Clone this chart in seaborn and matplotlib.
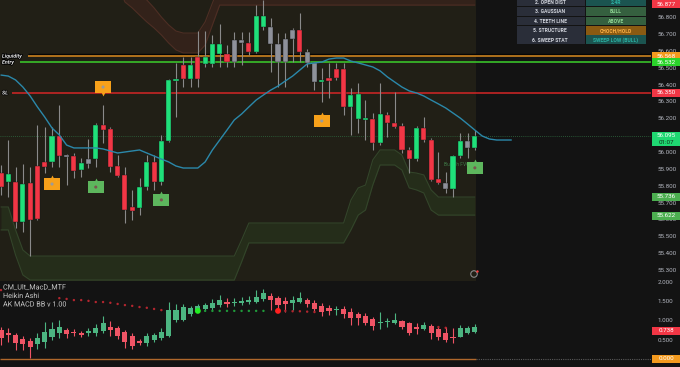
import matplotlib
matplotlib.use("Agg")
import matplotlib.pyplot as plt
import seaborn as sns
import numpy as np
import pandas as pd
from matplotlib.patches import Rectangle
from matplotlib.transforms import blended_transform_factory
import matplotlib.patheffects as pe

# ------------------------------------------------------------------ data
opens = [55.875, 55.822, 55.822, 55.585, 55.816, 55.917, 55.941, 55.941, 56.095, 55.982,
         55.976, 55.893, 55.958, 55.958, 56.160, 56.136, 55.917, 55.864, 55.674, 55.668,
         55.792, 55.941, 55.822, 56.065, 56.421, 56.433, 56.516, 56.433, 56.563, 56.522,
         56.581, 56.581, 56.533, 56.646, 56.646, 56.593, 56.741, 56.741, 56.640, 56.533,
         56.670, 56.723, 56.593, 56.528, 56.415, 56.439, 56.492, 56.492, 56.267, 56.196,
         56.190, 56.196, 56.053, 56.219, 56.172, 56.154, 56.012, 55.958, 56.142, 56.071,
         55.840, 55.816, 55.781, 55.976, 56.065, 56.024]
highs = [55.923, 56.071, 55.911, 55.929, 55.911, 56.160, 56.148, 56.148, 56.279, 55.988,
         55.994, 55.964, 56.077, 56.172, 56.279, 56.148, 55.982, 55.911, 55.775, 55.845,
         55.982, 55.982, 56.101, 56.433, 56.528, 56.563, 56.563, 56.715, 56.715, 56.694,
         56.758, 56.634, 56.711, 56.711, 56.711, 56.871, 56.901, 56.794, 56.705, 56.705,
         56.735, 56.824, 56.611, 56.533, 56.498, 56.528, 56.528, 56.528, 56.379, 56.409,
         56.308, 56.231, 56.409, 56.237, 56.357, 56.172, 56.030, 56.154, 56.207, 56.083,
         56.000, 55.881, 55.982, 56.113, 56.113, 56.130]
lows = [55.745, 55.733, 55.549, 55.526, 55.383, 55.597, 55.875, 55.911, 55.911, 55.804,
        55.845, 55.853, 55.905, 55.911, 56.053, 55.881, 55.852, 55.579, 55.597, 55.627,
        55.775, 55.775, 55.805, 56.059, 56.207, 56.385, 56.385, 56.385, 56.504, 56.504,
        56.504, 56.504, 56.504, 56.516, 56.575, 56.587, 56.723, 56.474, 56.385, 56.385,
        56.533, 56.533, 56.504, 56.367, 56.296, 56.320, 56.427, 56.219, 56.101, 56.113,
        56.071, 56.012, 56.041, 56.089, 56.140, 55.994, 55.875, 55.946, 56.059, 55.828,
        55.810, 55.757, 55.733, 55.964, 55.964, 56.012]
closes = [55.792, 55.869, 55.585, 55.810, 55.597, 55.603, 55.911, 56.095, 55.976, 55.970,
          55.887, 55.935, 55.929, 56.160, 56.130, 55.911, 55.858, 55.656, 55.650, 55.792,
          55.941, 55.822, 56.065, 56.427, 56.433, 56.516, 56.433, 56.563, 56.522, 56.640,
          56.640, 56.533, 56.664, 56.664, 56.593, 56.806, 56.806, 56.640, 56.533, 56.670,
          56.723, 56.593, 56.528, 56.415, 56.427, 56.421, 56.439, 56.267, 56.338, 56.344,
          56.201, 56.053, 56.225, 56.172, 56.148, 56.012, 55.958, 56.142, 56.071, 55.834,
          55.816, 55.781, 55.976, 56.065, 56.024, 56.095]
# candle colouring state: g = bull, r = bear, n = neutral (grey)
tone = list("rgrgrrrgrn" "rgngrrrrrg" "grgggrgrgg" "grnnrggnnn"
            "nrnngrrrgg" "grgrrrrgrr" "rnggng")

# moving-average line (extends a few bars to the right)
ma = [56.456, 56.450, 56.427, 56.385, 56.332, 56.267, 56.207, 56.142, 56.101, 56.041,
      56.024, 56.024, 56.024, 56.024, 56.018, 56.006, 55.994, 56.000, 56.006, 56.012,
      55.994, 55.976, 55.958, 55.941, 55.917, 55.905, 55.905, 55.905, 55.941, 56.012,
      56.071, 56.130, 56.190, 56.225, 56.267, 56.308, 56.338, 56.367, 56.391, 56.421,
      56.450, 56.486, 56.522, 56.528, 56.533, 56.551, 56.557, 56.557, 56.539, 56.528,
      56.516, 56.504, 56.481, 56.445, 56.415, 56.385, 56.362, 56.350, 56.332, 56.308,
      56.285, 56.261, 56.231, 56.201, 56.166, 56.130, 56.095, 56.077, 56.071, 56.071,
      56.071]

# upper (premium) zone
up_lo = [57.000, 57.000, 57.000, 57.000, 57.000, 57.000, 57.000, 57.000, 57.000, 57.000,
         57.000, 57.000, 57.000, 57.000, 57.000, 57.000, 57.000, 56.889, 56.854, 56.812,
         56.771, 56.735, 56.694, 56.646, 56.605, 56.587, 56.587, 56.587, 56.634, 56.753,
         56.871, 56.871, 56.871, 56.871, 56.871, 56.871, 56.871, 56.871, 56.871, 56.871,
         56.871, 56.871, 56.871, 56.871, 56.871, 56.871, 56.871, 56.871, 56.871, 56.871,
         56.871, 56.871, 56.871, 56.871, 56.871, 56.871, 56.871, 56.871, 56.871, 56.871,
         56.871, 56.871, 56.871, 56.871, 56.871, 56.871]
up_hi = [57.100, 57.100, 57.100, 57.100, 57.100, 57.100, 57.100, 57.100, 57.100, 57.100,
         57.100, 57.100, 57.100, 57.100, 57.100, 57.100, 57.100, 57.020, 56.984, 56.937,
         56.901, 56.854, 56.800, 56.753, 56.717, 56.705, 56.705, 56.705, 56.771, 56.883,
         56.990, 57.020, 57.020, 57.020, 57.020, 57.020, 57.020, 57.020, 57.020, 57.020,
         57.020, 57.020, 57.020, 57.020, 57.020, 57.020, 57.020, 57.020, 57.020, 57.020,
         57.020, 57.020, 57.020, 57.020, 57.020, 57.020, 57.020, 57.020, 57.020, 57.020,
         57.020, 57.020, 57.020, 57.020, 57.020, 57.020]
# lower (discount) zone
dn_hi = [55.674, 55.674, 55.538, 55.419, 55.383, 55.383, 55.383, 55.383, 55.383, 55.383,
         55.383, 55.383, 55.383, 55.383, 55.383, 55.383, 55.383, 55.383, 55.383, 55.383,
         55.383, 55.383, 55.383, 55.383, 55.383, 55.383, 55.383, 55.383, 55.383, 55.383,
         55.383, 55.383, 55.383, 55.478, 55.579, 55.579, 55.579, 55.579, 55.579, 55.579,
         55.579, 55.579, 55.579, 55.579, 55.579, 55.579, 55.579, 55.579, 55.715, 55.787,
         55.804, 55.953, 56.012, 56.012, 56.012, 55.982, 55.881, 55.875, 55.864, 55.775,
         55.733, 55.733, 55.733, 55.733, 55.733, 55.733]
dn_lo = [55.538, 55.538, 55.389, 55.271, 55.241, 55.241, 55.241, 55.241, 55.241, 55.241,
         55.241, 55.241, 55.241, 55.241, 55.241, 55.241, 55.241, 55.241, 55.241, 55.241,
         55.241, 55.241, 55.241, 55.241, 55.241, 55.241, 55.241, 55.241, 55.241, 55.241,
         55.241, 55.241, 55.241, 55.348, 55.461, 55.461, 55.461, 55.461, 55.461, 55.461,
         55.461, 55.461, 55.461, 55.461, 55.461, 55.461, 55.461, 55.461, 55.538, 55.626,
         55.656, 55.804, 55.923, 55.923, 55.923, 55.893, 55.787, 55.775, 55.757, 55.656,
         55.626, 55.626, 55.626, 55.626, 55.626, 55.626]

level_names = ["Liquidity", "Entry", "SL"]
level_vals = [56.568, 56.532, 56.350]

sig_idx = [14, 7, 44, 13, 22, 65]
sig_price = [56.385, 55.810, 56.184, 55.792, 55.716, 55.906]
sig_kind = ["warn", "warn", "warn", "bull", "bull", "bull"]
sig_tip = ["down", "up", "up", "up", "up", "up"]

tag_vals = [56.877, 56.568, 56.532, 56.350, 56.095, 55.736, 55.622]
tag_kind = ["red", "orange", "lime", "red", "green", "mgreen", "mgreen"]
countdown = "01:07"

price_ticks = [55.3, 55.4, 55.5, 55.6, 55.7, 55.8, 55.9, 56.0, 56.1, 56.2,
               56.3, 56.4, 56.5, 56.6, 56.7, 56.8]

# lower pane: Heikin-Ashi MACD candles
ha_open = [0.753, 0.675, 0.623, 0.519, 0.468, 0.390, 0.442, 0.571, 0.675, 0.753,
           0.701, 0.675, 0.675, 0.675, 0.727, 0.831, 0.805, 0.701, 0.597, 0.468,
           0.416, 0.494, 0.545, 0.597, 1.013, 1.013, 1.169, 1.247, 1.299, 1.325,
           1.403, 1.481, 1.455, 1.455, 1.481, 1.481, 1.558, 1.636, 1.584, 1.506,
           1.455, 1.481, 1.532, 1.455, 1.377, 1.325, 1.273, 1.299, 1.221, 1.169,
           1.117, 1.039, 0.935, 0.961, 0.935, 0.987, 0.935, 0.831, 0.779, 0.857,
           0.779, 0.675, 0.571, 0.571, 0.675, 0.701]
ha_high = [0.831, 0.805, 0.675, 0.597, 0.545, 0.675, 0.961, 0.961, 1.013, 0.805,
           0.779, 0.727, 0.805, 0.909, 1.117, 0.987, 0.857, 0.753, 0.675, 0.519,
           0.675, 0.675, 0.805, 1.481, 1.429, 1.429, 1.377, 1.429, 1.455, 1.558,
           1.662, 1.584, 1.584, 1.610, 1.636, 1.792, 1.818, 1.714, 1.636, 1.610,
           1.636, 1.740, 1.584, 1.532, 1.455, 1.403, 1.377, 1.377, 1.325, 1.221,
           1.195, 1.091, 1.221, 1.065, 1.195, 1.013, 0.961, 0.935, 0.961, 0.909,
           0.831, 0.831, 0.805, 0.883, 0.857, 0.909]
ha_low = [0.364, 0.442, 0.234, 0.234, 0.026, 0.260, 0.286, 0.494, 0.545, 0.545,
          0.597, 0.571, 0.597, 0.597, 0.675, 0.597, 0.519, 0.286, 0.260, 0.364,
          0.338, 0.442, 0.494, 0.571, 0.961, 0.987, 1.117, 1.221, 1.247, 1.273,
          1.351, 1.351, 1.377, 1.403, 1.429, 1.455, 1.506, 1.273, 1.221, 1.221,
          1.273, 1.455, 1.351, 1.221, 1.117, 1.143, 1.143, 1.065, 0.883, 0.883,
          0.883, 0.753, 0.779, 0.831, 0.909, 0.779, 0.623, 0.649, 0.753, 0.519,
          0.494, 0.442, 0.416, 0.571, 0.649, 0.675]
ha_close = [0.545, 0.623, 0.416, 0.390, 0.312, 0.545, 0.701, 0.779, 0.831, 0.649,
            0.675, 0.623, 0.727, 0.805, 0.935, 0.753, 0.597, 0.442, 0.338, 0.416,
            0.597, 0.623, 0.701, 1.273, 1.273, 1.351, 1.325, 1.377, 1.403, 1.455,
            1.532, 1.429, 1.481, 1.506, 1.532, 1.610, 1.714, 1.532, 1.403, 1.429,
            1.532, 1.584, 1.429, 1.299, 1.221, 1.247, 1.299, 1.169, 1.065, 1.065,
            0.935, 0.857, 0.961, 0.987, 1.013, 0.831, 0.675, 0.779, 0.883, 0.675,
            0.571, 0.494, 0.545, 0.805, 0.805, 0.831]

dot_idx = [0, 8, 9, 10, 11, 12, 13, 14, 15, 16, 17, 18, 19, 20, 21, 22,
           27, 28, 29, 30, 31, 32, 33, 34, 35, 36, 38, 39, 40, 41, 42, 43, 60, 61]
dot_val = [1.79, 1.58, 1.56, 1.53, 1.53, 1.51, 1.48, 1.48, 1.46, 1.43, 1.40, 1.38, 1.35,
           1.33, 1.30, 1.27, 1.25, 1.25, 1.25, 1.25, 1.25, 1.25, 1.25, 1.25, 1.25, 1.25,
           1.25, 1.25, 1.24, 1.24, 1.23, 1.22, 0.83, 0.81]
dot_kind = ["bear"] * 16 + ["bull_x"] + ["bull"] * 9 + ["bear_x"] + ["bear"] * 7

lower_ticks = [0.5, 1.0, 1.5, 2.0]
lower_tags = [0.738, 0.000]
lower_titles = ["CM_Ult_MacD_MTF", "Heikin Ashi", "AK MACD BB v 1.00"]

table_left = ["2. OPEN DIST", "3. GAUSSIAN", "4. TEETH LINE", "5. STRUCTURE", "6. SWEEP STAT"]
table_right = ["2.4R", "BULL", "ABOVE", "CHOCH/HOLD", "SWEEP LOW (BULL)"]

# ------------------------------------------------------------------ layout
sns.set_theme(style="dark")
plt.rcParams["font.family"] = ["Roboto", "DejaVu Sans"]
plt.rcParams["axes.grid"] = False

W, H = 680, 367
AXW = 651          # plot area width in px
SP = 7.29          # px per bar
X_LO = -0.137
X_HI = X_LO + AXW / SP
P_TOP = 56.901
PPX = 0.005928     # price per px
MAIN_H = 281
LOW_TOP = 282
V_TOP = 2.0
VPX = 1 / 38.5
BG = "#131313"
OLIVE = "#211f16"

def px2x(px):
    return X_LO + px / SP

def py2p(py):
    return P_TOP - py * PPX

fig = plt.figure(figsize=(W / 100, H / 100), dpi=100, facecolor=BG)
ax = fig.add_axes([0, (H - MAIN_H) / H, AXW / W, MAIN_H / H])
axl = fig.add_axes([0, 0, AXW / W, (H - LOW_TOP) / H])
for a in (ax, axl):
    a.set_facecolor(BG)
    for s in a.spines.values():
        s.set_visible(False)
    a.set_xlim(X_LO, X_HI)
    a.set_xticks([])
    a.grid(False)
    a.set_xlabel("")
    a.set_ylabel("")
ax.set_ylim(P_TOP - MAIN_H * PPX, P_TOP)
axl.set_ylim(V_TOP - (H - LOW_TOP) * VPX, V_TOP)

olive_right = px2x(476)
ax.axvspan(X_LO, olive_right, color=OLIVE, zorder=0, lw=0)

# zones
bi = np.arange(len(up_lo))
ax.fill_between(bi, up_lo, up_hi, color="#33221a", lw=0, zorder=1)
ax.plot(bi, up_lo, color="#4d2e24", lw=0.8, zorder=1)
ax.plot(bi, up_hi, color="#4d2e24", lw=0.8, zorder=1)
ax.fill_between(bi, dn_lo, dn_hi, color="#252d1a", lw=0, zorder=1)
ax.plot(bi, dn_lo, color="#33452a", lw=0.8, zorder=1)
ax.plot(bi, dn_hi, color="#33452a", lw=0.8, zorder=1)

# current price dotted line
ax.axhline(closes[-1], color="#2f6b40", lw=0.6, ls=(0, (1, 1.5)), zorder=2)

# levels
lvl_colors = ["#d98a1f", "#3ccf2b", "#d42626"]
lvl_start = [28, 20, 12]
ax.hlines(level_vals[0] + 2 * PPX, px2x(lvl_start[0]), X_HI, color="#050505", lw=1.0, zorder=2)
for name, v, c, st in zip(level_names, level_vals, lvl_colors, lvl_start):
    ax.hlines(v, px2x(st), X_HI, color=c, lw=1.1, zorder=2)
    ax.text(px2x(2), v, name, fontsize=3.8, color="#e6e6e6", fontweight="bold",
            style="italic", va="center", ha="left", zorder=6,
            path_effects=[pe.withStroke(linewidth=1.2, foreground="#000000")])

# candles
idx = np.arange(len(opens))
cmap = {"g": "#1fe07a", "r": "#f23645", "n": "#8e919a"}
ccol = [cmap[t] for t in tone]
o = np.array(opens); c = np.array(closes)
bottoms = np.minimum(o, c)
heights = np.maximum(np.abs(c - o), 0.012)
ax.vlines(idx, lows, highs, color="#8a8a8a", lw=0.8, zorder=3)
ax.bar(idx, heights, bottom=bottoms, width=0.7, color=ccol,
       edgecolor="#161616", linewidth=0.3, zorder=4)

# moving average
sns.lineplot(x=np.arange(len(ma)), y=ma, ax=ax, color="#2b88aa", lw=1.0,
             zorder=5, legend=False)
ax.set_xlabel(""); ax.set_ylabel("")

# faint FVG text
ax.text(px2x(444), py2p(164), "Bullish FVG", fontsize=3.6, color="#3f7a47",
        va="center", ha="left", zorder=2)

# signal labels
sig = pd.DataFrame({"i": sig_idx, "p": sig_price, "k": sig_kind, "t": sig_tip})
box = [(-1.25, -1), (1.25, -1), (1.25, 1), (-1.25, 1), (-1.25, -1)]
for kind, fc, ic in [("warn", "#f7a11a", "#9a9a9a"), ("bull", "#5db65d", "#7a5550")]:
    d = sig[sig.k == kind]
    sns.scatterplot(data=d, x="i", y="p", ax=ax, marker=box, s=130, color=fc,
                    edgecolor="none", zorder=7, legend=False)
    sns.scatterplot(data=d, x="i", y="p", ax=ax, marker="o", s=5, color=ic,
                    edgecolor="none", zorder=8, legend=False)
    for _, r in d.iterrows():
        if r.t == "down":
            ax.scatter(r.i, r.p - 7 * PPX, marker="v", s=8, color=fc, lw=0, zorder=7)
        else:
            ax.scatter(r.i, r.p + 7 * PPX, marker="^", s=8, color=fc, lw=0, zorder=7)
ax.set_xlabel(""); ax.set_ylabel("")

# replay icon
ax.scatter([474 / AXW], [7 / MAIN_H], transform=ax.transAxes, s=22, facecolor="none",
           edgecolor="#8a8a8a", lw=0.8, zorder=9, clip_on=False)
ax.scatter([477 / AXW], [10 / MAIN_H], transform=ax.transAxes, s=3, color="#ff3b3b",
           lw=0, zorder=10, clip_on=False)

# price axis
ax.yaxis.tick_right()
ax.set_yticks(price_ticks)
ax.set_yticklabels([f"{v:.3f}" for v in price_ticks])
ax.tick_params(axis="y", length=0, pad=5, labelsize=4.5, labelcolor="#b2b5be")

tag_fc = {"red": "#f23645", "orange": "#f39a1e", "lime": "#2bd42b",
          "green": "#1fd872", "mgreen": "#4caf50"}

def tag(a, y, text, fc, unit, tc="#ffffff", h_px=8):
    tr = blended_transform_factory(a.transAxes, a.transData)
    hh = h_px * unit
    a.add_patch(Rectangle((1 + 1 / AXW, y - hh / 2), 28 / AXW, hh, transform=tr,
                          facecolor=fc, edgecolor="none", clip_on=False, zorder=20))
    a.text(1 + 15 / AXW, y, text, transform=tr, ha="center", va="center",
           fontsize=4.5, color=tc, zorder=21, clip_on=False)

for v, k in zip(tag_vals, tag_kind):
    tag(ax, v, f"{v:.3f}", tag_fc[k], PPX)
tag(ax, tag_vals[4] - 7 * PPX, countdown, tag_fc["green"], PPX, tc="#10301c", h_px=7)

# ------------------------------------------------------------------ lower pane
axl.hlines(0, X_LO, olive_right, color="#b0682c", lw=1.0, zorder=2)
axl.hlines(0, olive_right, X_HI, color="#5a5a5a", lw=0.8, ls=(0, (1, 1)), zorder=2)

hi = np.arange(len(ha_open))
ho = np.array(ha_open); hc = np.array(ha_close)
hcol = np.where(hc >= ho, "#4cb581", "#f05465")
axl.vlines(hi, ha_low, ha_high, color=hcol, lw=0.8, zorder=3)
axl.bar(hi, np.maximum(np.abs(hc - ho), 0.03), bottom=np.minimum(ho, hc), width=0.7,
        color=hcol, edgecolor="none", zorder=4)

dots = pd.DataFrame({"i": dot_idx, "v": dot_val, "k": dot_kind})
for kind, col, s in [("bear", "#b3262f", 3), ("bull", "#1f9a3a", 3),
                     ("bull_x", "#22ee22", 18), ("bear_x", "#ff1f1f", 18)]:
    d = dots[dots.k == kind]
    sns.scatterplot(data=d, x="i", y="v", ax=axl, color=col, s=s, edgecolor="none",
                    zorder=5, legend=False)
axl.set_xlabel(""); axl.set_ylabel("")

axl.yaxis.tick_right()
axl.set_yticks(lower_ticks)
axl.set_yticklabels([f"{v:.3f}" for v in lower_ticks])
axl.tick_params(axis="y", length=0, pad=5, labelsize=4.5, labelcolor="#b2b5be")
tag(axl, lower_tags[0], f"{lower_tags[0]:.3f}", "#f23645", VPX)
tag(axl, lower_tags[1], f"{lower_tags[1]:.3f}", "#f39a1e", VPX)

for k, t in enumerate(lower_titles):
    axl.text(3 / AXW, 1 - (6 + 8.5 * k) / (H - LOW_TOP), t, transform=axl.transAxes,
             fontsize=5.2, color="#c8c8c8", va="center", ha="left", zorder=8,
             path_effects=[pe.withStroke(linewidth=1.0, foreground="#111111")])

# ------------------------------------------------------------------ table
def fig_rect(x0, y0, w, h, color):
    fig.add_artist(Rectangle((x0 / W, 1 - (y0 + h) / H), w / W, h / H,
                             transform=fig.transFigure, facecolor=color,
                             edgecolor="none", zorder=30))

def fig_text(x, y, s, **kw):
    fig.text(x / W, 1 - y / H, s, zorder=31, **kw)

r_bg = ["#1b5450", "#35603f", "#35603f", "#8a5a12", "#1b5450"]
r_tc = ["#2bb3a5", "#8fd694", "#8fd694", "#ffb347", "#2bb3a5"]
for k, (lt, rt) in enumerate(zip(table_left, table_right)):
    top = -2.5 + 9.5 * k
    fig_rect(517, top, 68, 8.8, "#2a2e39")
    fig_rect(586, top, 60, 8.8, r_bg[k])
    fig_text(550, top + 4.6, lt, fontsize=3.6, color="#d1d4dc", fontweight="bold",
             ha="center", va="center")
    fig_text(616, top + 4.6, rt, fontsize=3.6, color=r_tc[k], fontweight="bold",
             ha="center", va="center")

fig.savefig("out.png", dpi=100, facecolor=fig.get_facecolor())
